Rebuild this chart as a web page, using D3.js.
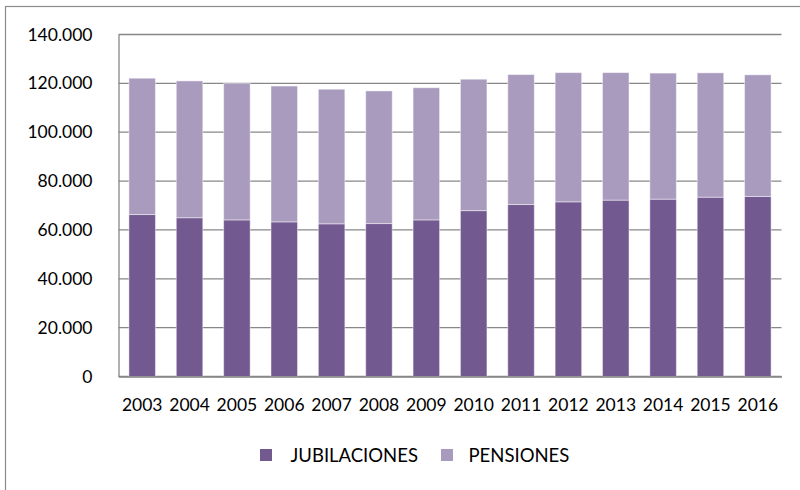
<!DOCTYPE html>
<html>
<head>
<meta charset="utf-8">
<script src="https://d3js.org/d3.v7.min.js"></script>
<style>
  body { margin: 0; background: #fff; }
  svg text { font-family: Lato, "Open Sans", sans-serif; fill: #000; }
</style>
</head>
<body>
<div id="chart"></div>
<script>
// years and series values
const years = ["2003","2004","2005","2006","2007","2008","2009","2010","2011","2012","2013","2014","2015","2016"];
const jubilaciones = [66300, 65000, 64100, 63300, 62500, 62600, 64100, 67900, 70400, 71500, 72200, 72600, 73400, 73700];
const pensiones    = [55800, 56000, 55900, 55600, 55100, 54300, 54100, 53800, 53200, 52900, 52200, 51600, 50900, 49800];
const seriesNames = ["JUBILACIONES", "PENSIONES"];
const yTicks = [0, 20000, 40000, 60000, 80000, 100000, 120000, 140000];

const width = 800;
const height = 490;
const colors = ["#725990", "#a99bbe"];

const svg = d3.select("#chart")
            .append("svg")
            .attr("width", width)
            .attr("height", height);

// outer frame (only top and left show in the picture)
svg.append("rect")
    .attr("x", 5.5).attr("y", 6.5)
    .attr("width", 820).attr("height", 520)
    .attr("fill", "none")
    .attr("stroke", "#8c8c8c")
    .attr("stroke-width", 1.2);

const x = d3.scaleBand()
            .domain(years)
            .range([118.5, 781.5])
            .paddingInner(0.44)
            .paddingOuter(0.22);

const y = d3.scaleLinear()
            .domain([0, 140000])
            .range([376.5, 34.5]);

const fmt = d3.formatLocale({decimal: ",", thousands: ".", grouping: [3], currency: ["", ""]}).format(",");

// gridlines
svg.append("g")
  .selectAll("line")
  .data(yTicks)
  .join("line")
    .attr("x1", 118.5)
    .attr("x2", 781.5)
    .attr("y1", d => y(d))
    .attr("y2", d => y(d))
    .attr("stroke", "#878787")
    .attr("stroke-width", 1.3);

// stacked bars
const table = years.map((yr, i) => ({year: yr, JUBILACIONES: jubilaciones[i], PENSIONES: pensiones[i]}));
const stacked = d3.stack().keys(seriesNames)(table);

svg.append("g")
  .selectAll("g")
  .data(stacked)
  .join("g")
    .attr("fill", (d, i) => colors[i])
  .selectAll("rect")
  .data(d => d)
  .join("rect")
    .attr("x", d => x(d.data.year))
    .attr("width", x.bandwidth())
    .attr("y", d => y(d[1]))
    .attr("height", d => y(d[0]) - y(d[1]))
    .attr("stroke", "#ffffff")
    .attr("stroke-opacity", 0.45)
    .attr("stroke-width", 1);

// y axis
const yAxis = svg.append("g")
    .attr("transform", "translate(118.5,0)")
    .call(d3.axisLeft(y).tickValues(yTicks).tickFormat(fmt).tickSize(0).tickPadding(26));
yAxis.select(".domain").attr("stroke", "#878787").attr("stroke-width", 1.3);
yAxis.selectAll("text").style("font-size", "17.5px");

// x axis
const xAxis = svg.append("g")
    .attr("transform", "translate(0,376.5)")
    .call(d3.axisBottom(x).tickSize(0).tickPadding(22));
xAxis.select(".domain").attr("stroke", "#878787").attr("stroke-width", 1.3);
xAxis.selectAll("text").style("font-size", "17.5px");

// legend
const legendX = [260, 441];
const legend = svg.append("g")
  .selectAll("g")
  .data(seriesNames)
  .join("g")
    .attr("transform", (d, i) => `translate(${legendX[i]},449)`);

legend.append("rect")
    .attr("width", 12)
    .attr("height", 12)
    .attr("fill", (d, i) => colors[i]);

legend.append("text")
    .attr("x", (d, i) => i === 0 ? 30.5 : 27.5)
    .attr("y", 6)
    .attr("dy", "0.36em")
    .style("font-size", "18.5px")
    .text(d => d);
</script>
</body>
</html>
